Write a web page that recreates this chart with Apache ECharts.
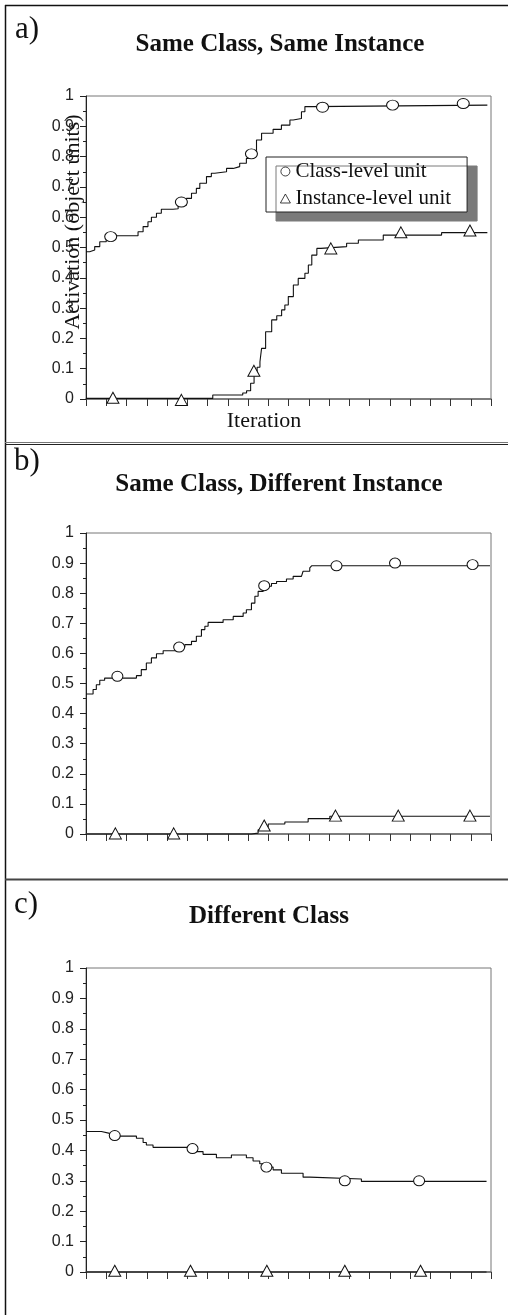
<!DOCTYPE html>
<html>
<head>
<meta charset="utf-8">
<script src="https://cdn.jsdelivr.net/npm/echarts@6/dist/echarts.min.js"></script>
<style>
html,body{margin:0;padding:0;background:#fff;}
#chart{width:508px;height:1315px;}
</style>
</head>
<body>
<div id="chart"></div>
<script>
// ---------- data (x in iteration-tick units 0..20, y = activation) ----------
const panelLetters = ['a)', 'b)', 'c)'];
const panelTitles = ['Same Class, Same Instance', 'Same Class, Different Instance', 'Different Class'];
const seriesNames = ['Class-level unit', 'Instance-level unit'];
const yAxisTitle = 'Activation (object units)';
const xAxisTitle = 'Iteration';
const yTickLabels = ['0','0.1','0.2','0.3','0.4','0.5','0.6','0.7','0.8','0.9','1'];

const classA = [[0,0.486],[0.18,0.492],[0.43,0.503],[0.68,0.519],[1.0,0.539],[2.41,0.539],[2.57,0.552],[2.82,0.569],[3.06,0.585],[3.23,0.6],[3.48,0.613],[3.72,0.626],[4.3,0.628],[4.55,0.64],[4.96,0.662],[5.21,0.679],[5.45,0.695],[5.62,0.712],[5.95,0.734],[6.19,0.745],[6.36,0.75],[6.94,0.761],[7.27,0.767],[7.59,0.778],[7.92,0.794],[8.25,0.816],[8.42,0.855],[8.67,0.877],[9.24,0.89],[9.65,0.904],[10.07,0.921],[10.23,0.926],[10.64,0.948],[10.81,0.965],[11.14,0.97],[19.82,0.97]];
const instA = [[0,0.002],[6.26,0.013],[7.74,0.02],[7.93,0.027],[8.13,0.052],[8.3,0.08],[8.45,0.105],[8.59,0.123],[8.67,0.167],[8.87,0.222],[9.17,0.261],[9.42,0.275],[9.66,0.294],[9.82,0.31],[9.99,0.338],[10.24,0.376],[10.48,0.398],[10.81,0.415],[10.98,0.442],[11.15,0.475],[11.4,0.497],[11.6,0.503],[12.87,0.514],[13.45,0.525],[14.68,0.541],[17.56,0.549],[19.82,0.549]];
const classMarksA = [[1.22,0.536],[4.71,0.65],[8.17,0.809],[11.68,0.963],[15.14,0.97],[18.63,0.975]];
const instMarksA = [[1.33,0.004],[4.71,-0.003],[8.29,0.093],[12.09,0.497],[15.55,0.55],[18.96,0.556]];

const classB = [[0,0.465],[0.35,0.48],[0.51,0.496],[0.68,0.511],[0.92,0.518],[2.32,0.518],[2.49,0.526],[2.73,0.546],[2.98,0.568],[3.23,0.585],[3.48,0.599],[3.81,0.609],[4.3,0.609],[4.6,0.621],[4.88,0.629],[5.21,0.64],[5.45,0.657],[5.7,0.679],[5.87,0.69],[6.03,0.703],[6.77,0.712],[7.27,0.723],[7.76,0.734],[7.92,0.745],[8.17,0.767],[8.34,0.79],[8.5,0.806],[8.75,0.823],[9.16,0.832],[9.41,0.839],[9.9,0.847],[10.23,0.856],[10.64,0.862],[10.72,0.873],[11.05,0.884],[11.14,0.891],[19.95,0.891]];
const instB = [[0,0],[8.17,0.003],[8.5,0.014],[8.75,0.025],[9.0,0.033],[9.82,0.04],[10.97,0.051],[12.04,0.059],[19.95,0.059]];
const classMarksB = [[1.55,0.524],[4.6,0.621],[8.8,0.825],[12.37,0.891],[15.26,0.9],[19.09,0.895]];
const instMarksB = [[1.45,0.002],[4.33,0.002],[8.8,0.028],[12.32,0.061],[15.42,0.061],[18.96,0.061]];

const classC = [[0,0.462],[0.76,0.456],[1.17,0.447],[2.49,0.44],[2.82,0.426],[2.98,0.418],[3.31,0.41],[5.21,0.406],[5.45,0.396],[5.78,0.387],[6.44,0.376],[7.18,0.385],[7.92,0.376],[8.25,0.365],[8.58,0.356],[8.91,0.345],[9.24,0.336],[9.65,0.325],[10.72,0.312],[11.05,0.306],[13.6,0.298],[19.78,0.298]];
const instC = [[0,0],[19.78,0]];
const classMarksC = [[1.42,0.449],[5.26,0.406],[8.91,0.345],[12.78,0.3],[16.45,0.3]];
const instMarksC = [[1.42,0.004],[5.16,0.004],[8.93,0.004],[12.78,0.004],[16.52,0.004]];

const lines = [[classA, instA], [classB, instB], [classC, instC]];
const marks = [[classMarksA, instMarksA], [classMarksB, instMarksB], [classMarksC, instMarksC]];

// ---------- layout ----------
const grids = [
  {left: 86, top: 96, width: 405, height: 303},
  {left: 86, top: 533, width: 405, height: 301},
  {left: 86, top: 968, width: 405, height: 304}
];
const letterPos = [[15, 30], [14, 462], [14, 905]];
const titlePos = [[280, 45], [279, 485], [269, 917]];
const circleSizes = [[12, 10], [11, 10], [11, 10]];

const chart = echarts.init(document.getElementById('chart'), null, {renderer: 'canvas'});

const xAxes = [], yAxes = [], series = [];
grids.forEach((g, i) => {
  xAxes.push({
    type: 'value', gridIndex: i, min: 0, max: 20, interval: 1,
    axisLine: {show: true, lineStyle: {color: '#6a6a6a', width: 1.5}},
    axisTick: {show: true, length: 7, lineStyle: {color: '#333', width: 1}},
    axisLabel: {show: false}, splitLine: {show: false}
  });
  yAxes.push({
    type: 'value', gridIndex: i, min: 0, max: 1, interval: 0.1,
    axisLine: {show: true, lineStyle: {color: '#222', width: 1}},
    axisTick: {show: true, length: 6, lineStyle: {color: '#222'}},
    minorTick: {show: true, splitNumber: 2, length: 3, lineStyle: {color: '#222'}},
    axisLabel: {
      margin: 12, fontFamily: 'Liberation Sans', fontSize: 16, color: '#222',
      formatter: v => yTickLabels[Math.round(v * 10)]
    },
    splitLine: {show: false}
  });
  lines[i].forEach((d, k) => {
    series.push({
      type: 'line', name: 'line-' + i + '-' + k, xAxisIndex: i, yAxisIndex: i,
      step: 'end', data: d, symbol: 'none', showSymbol: false, clip: false,
      lineStyle: {color: '#111', width: 1.1}, z: 2, animation: false
    });
  });
  marks[i].forEach((d, k) => {
    series.push({
      type: 'scatter', name: seriesNames[k], xAxisIndex: i, yAxisIndex: i,
      data: d, clip: false,
      symbol: k === 0 ? 'circle' : 'triangle',
      symbolSize: k === 0 ? circleSizes[i] : [12, 11],
      itemStyle: {color: '#fff', borderColor: '#111', borderWidth: 1, opacity: 1},
      z: 4, animation: false
    });
  });
});

const graphics = [];
// outer frame / separators
graphics.push({type: 'line', shape: {x1: 5, y1: 5.5, x2: 508, y2: 5.5}, style: {stroke: '#111', lineWidth: 1.3}});
graphics.push({type: 'line', shape: {x1: 5.5, y1: 5, x2: 5.5, y2: 1315}, style: {stroke: '#111', lineWidth: 1.5}});
graphics.push({type: 'line', shape: {x1: 5, y1: 442.5, x2: 508, y2: 442.5}, style: {stroke: '#777', lineWidth: 1}});
graphics.push({type: 'line', shape: {x1: 5, y1: 444.5, x2: 508, y2: 444.5}, style: {stroke: '#222', lineWidth: 1.2}});
graphics.push({type: 'line', shape: {x1: 5, y1: 879.5, x2: 508, y2: 879.5}, style: {stroke: '#444', lineWidth: 2}});

panelLetters.forEach((t, i) => {
  graphics.push({type: 'text', x: letterPos[i][0], y: letterPos[i][1],
    style: {text: t, font: '31px "Liberation Serif"', fill: '#111', align: 'left', verticalAlign: 'middle'}});
});
panelTitles.forEach((t, i) => {
  graphics.push({type: 'text', x: titlePos[i][0], y: titlePos[i][1],
    style: {text: t, font: 'bold 25px "Liberation Serif"', fill: '#111', align: 'center', verticalAlign: 'middle'}});
});
graphics.push({type: 'text', x: 73, y: 222, rotation: Math.PI / 2,
  style: {text: yAxisTitle, font: '22px "Liberation Serif"', fill: '#111', align: 'center', verticalAlign: 'middle'}});
graphics.push({type: 'text', x: 264, y: 421,
  style: {text: xAxisTitle, font: '22px "Liberation Serif"', fill: '#111', align: 'center', verticalAlign: 'middle'}});

chart.setOption({
  animation: false,
  backgroundColor: '#fff',
  grid: grids.map(g => Object.assign({show: true, borderColor: '#777', borderWidth: 1, backgroundColor: 'transparent', containLabel: false}, g)),
  xAxis: xAxes,
  yAxis: yAxes,
  legend: {
    orient: 'vertical', left: 266, top: 157,
    data: seriesNames, selectedMode: false,
    itemWidth: 10, itemHeight: 9, itemGap: 6,
    padding: [4, 16, 3, 14],
    itemStyle: {color: '#fff', borderColor: '#111', borderWidth: 0.8},
    textStyle: {fontFamily: 'Liberation Serif', fontSize: 21, color: '#111'},
    backgroundColor: '#fff', borderColor: '#222', borderWidth: 1,
    shadowColor: '#7a7a7a', shadowBlur: 0, shadowOffsetX: 10, shadowOffsetY: 9
  },
  graphic: graphics,
  series: series
});
</script>
</body>
</html>
